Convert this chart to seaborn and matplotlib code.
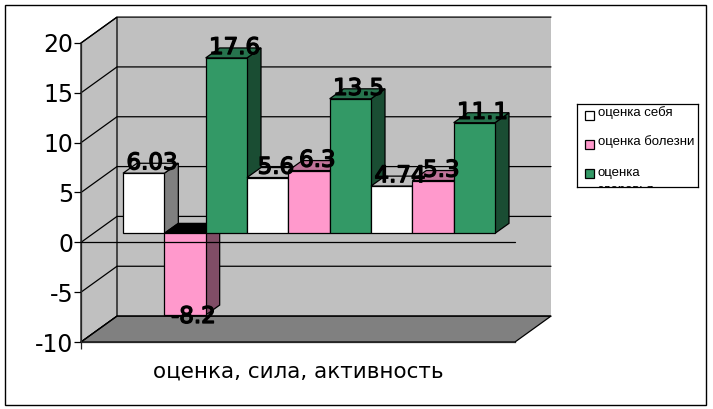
import textwrap
import matplotlib
matplotlib.use("Agg")
import matplotlib.pyplot as plt
import matplotlib.patheffects as pe
from matplotlib.colors import to_rgb
from matplotlib.patches import Polygon, Rectangle
import pandas as pd
import seaborn as sns

groups = ["оценка", "сила", "активность"]
series_names = ["оценка себя", "оценка болезни", "оценка здоровья"]
self_values = [6.03, 5.6, 4.74]
illness_values = [-8.2, 6.3, 5.3]
health_values = [17.6, 13.5, 11.1]
y_ticks = [-10, -5, 0, 5, 10, 15, 20]
axis_title = "оценка, сила, активность"
colors = ["#FFFFFF", "#FF99CC", "#339966"]

W, H = 713, 409
sns.set_theme(style="white")
plt.rcParams["font.family"] = ["DejaVu Sans"]
plt.rcParams["axes.unicode_minus"] = False


def px_axes(fig, left, top, right, bottom, **kw):
    return fig.add_axes([left / W, 1 - bottom / H, (right - left) / W, (bottom - top) / H], **kw)


def shade(color, k):
    return tuple(c * k for c in to_rgb(color))


df = pd.DataFrame({
    "group": groups * 3,
    "series": [s for s in series_names for _ in groups],
    "value": self_values + illness_values + health_values,
})

fig = plt.figure(figsize=(W / 100, H / 100), dpi=100, facecolor="white")
fig.add_artist(Rectangle((5 / W, 1 - 405 / H), 701 / W, 400 / H, transform=fig.transFigure,
                         fill=False, ec="black", lw=1))

# front plane of the chart box, x in pixels, y in data units
ax = px_axes(fig, 81, 43, 515, 342)
ax.set_xlim(81, 515)
ax.set_ylim(-10, 20)
ax.patch.set_visible(False)
depth_x, depth_y = 36, 2.6

ax.add_patch(Polygon([(81 + depth_x, -10 + depth_y), (515 + depth_x, -10 + depth_y),
                      (515 + depth_x, 20 + depth_y), (81 + depth_x, 20 + depth_y)],
                     fc="#C0C0C0", ec="none", clip_on=False, zorder=0))
ax.add_patch(Polygon([(81, -10), (81 + depth_x, -10 + depth_y), (81 + depth_x, 20 + depth_y), (81, 20)],
                     fc="#C0C0C0", ec="black", lw=0.9, clip_on=False, zorder=0))
ax.add_patch(Polygon([(81, -10), (81 + depth_x, -10 + depth_y), (515 + depth_x, -10 + depth_y), (515, -10)],
                     fc="#808080", ec="black", lw=0.9, clip_on=False, zorder=1))
for t in y_ticks:
    ax.plot([81, 81 + depth_x, 515 + depth_x], [t, t + depth_y, t + depth_y],
            color="black", lw=0.9, clip_on=False, zorder=2)

for s in ["top", "right"]:
    ax.spines[s].set_visible(False)
ax.spines["left"].set_linewidth(0.9)
ax.spines["bottom"].set_linewidth(0.9)
ax.set_yticks(y_ticks)
ax.set_xticks([81])
ax.set_xticklabels([])
ax.tick_params(axis="y", labelsize=17, length=5, width=0.9, left=True, pad=0.5, colors="black")
ax.tick_params(axis="x", length=5, width=0.9, bottom=True)
ax.set_xlabel(axis_title, fontsize=15.5, color="black")
ax.xaxis.set_label_coords((298 - 81) / 434, -0.065)

# bars sit a little way into the box: 12 px right of the axis, 9 px up
bar_ax = px_axes(fig, 81, 34, 515, 333)
bar_ax.patch.set_visible(False)
sns.barplot(data=df, x="group", y="value", hue="series", order=groups, hue_order=series_names,
            palette=colors, width=1, gap=0, saturation=1, legend=False, ax=bar_ax,
            edgecolor="black", linewidth=0.9)
group_px = 124
bar_ax.set_xlim(-0.5 - 42 / group_px, 2.5 + 20 / group_px)
bar_ax.set_ylim(-10, 20)
bar_ax.axis("off")

bar_dx, bar_dy = 14 / group_px, 1.0
bars = []
for container, color in zip(bar_ax.containers, colors):
    for rect in container:
        bars.append((rect, color))
bars.sort(key=lambda b: b[0].get_x())

z = 3
for rect, color in bars:
    x0, w, v = rect.get_x(), rect.get_width(), rect.get_height()
    x1 = x0 + w
    side = Polygon([(x1, 0), (x1 + bar_dx, bar_dy), (x1 + bar_dx, v + bar_dy), (x1, v)],
                   fc=shade(color, 0.5), ec="black", lw=0.9, zorder=z)
    cap_y = max(v, 0)
    cap_color = "black" if v < 0 else shade(color, 0.75)
    cap = Polygon([(x0, cap_y), (x0 + bar_dx, cap_y + bar_dy), (x1 + bar_dx, cap_y + bar_dy), (x1, cap_y)],
                  fc=cap_color, ec="black", lw=0.9, zorder=z)
    bar_ax.add_patch(side)
    bar_ax.add_patch(cap)
    rect.set_zorder(z + 1)
    z += 2

for rect, color in bars:
    v = rect.get_height()
    off_y = 7.5 if v > 0 else -1
    bar_ax.annotate(f"{v:g}", (rect.get_x() + rect.get_width() / 2, v),
                    xytext=(6, off_y), textcoords="offset points", ha="center", va="center",
                    fontsize=16.5, color="black", zorder=60,
                    path_effects=[pe.withStroke(linewidth=1.0, foreground="black")])

# zero axis runs in front of the bars
bar_ax.plot([81, 515], [0, 0], transform=ax.transData, color="black", lw=0.9, clip_on=False, zorder=50)

# legend box, last entry is cut off by the frame as in the source
leg = px_axes(fig, 577, 104, 698, 187)
leg.set_xlim(577, 698)
leg.set_ylim(187, 104)
leg.set_xticks([])
leg.set_yticks([])
leg.set_facecolor("white")
for s in leg.spines.values():
    s.set_linewidth(0.9)
    s.set_color("black")
for name, color, row in zip(series_names, colors, range(3)):
    yy = 115.5 + row * 29
    leg.add_patch(Rectangle((585, yy - 4.5), 9, 9, fc=color, ec="black", lw=0.9))
    if row == 2:
        leg.text(598, yy - 7, textwrap.fill(name, 14), fontsize=9.5, family="Liberation Sans", va="top",
                 color="black", clip_on=True, linespacing=1.6)
    else:
        leg.text(598, yy - 2.5, textwrap.fill(name, 14), fontsize=9.5, family="Liberation Sans", va="center",
                 color="black", clip_on=True)

fig.savefig("out.png", dpi=100)
